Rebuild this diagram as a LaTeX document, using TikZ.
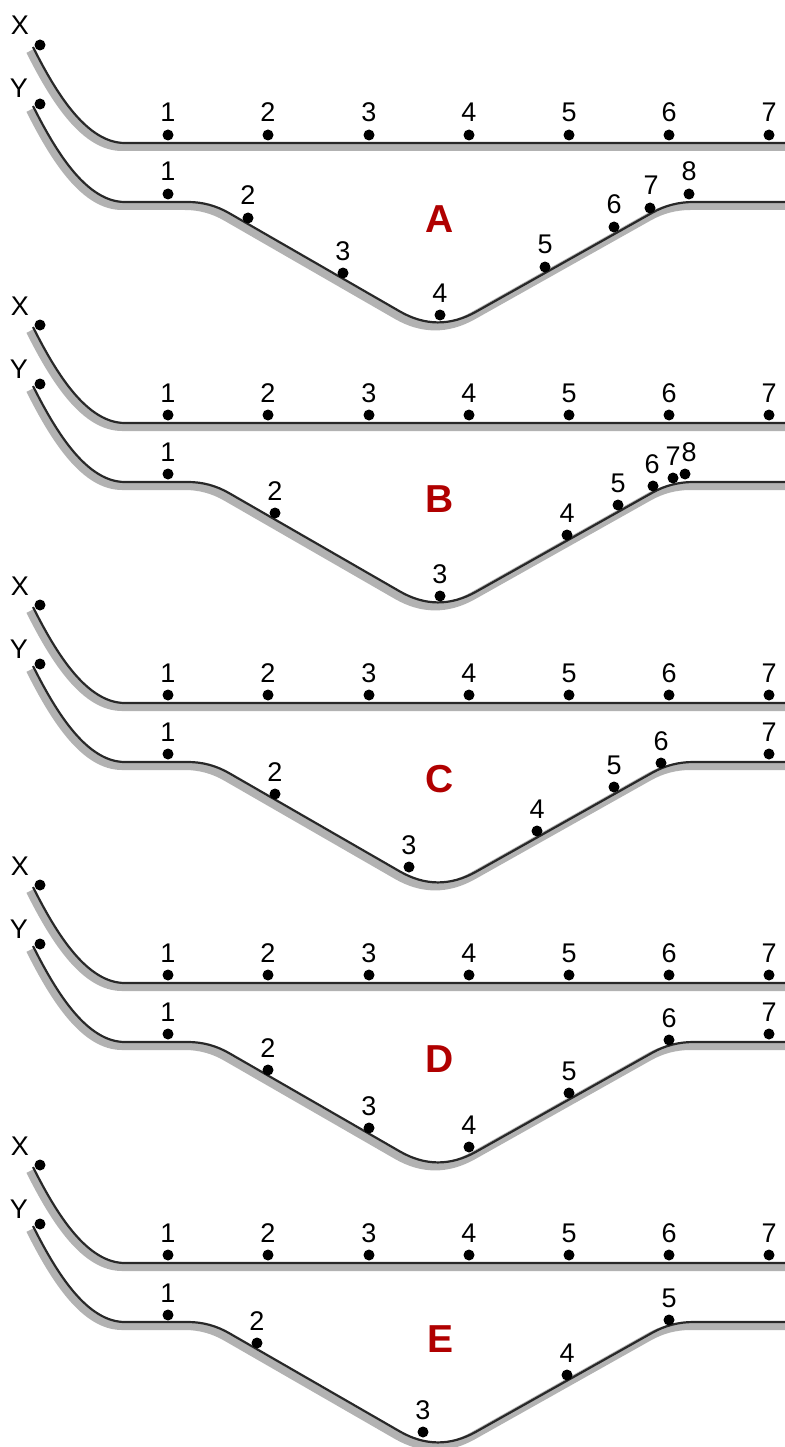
\documentclass[tikz,border=0pt]{standalone}
\usepackage{fontspec}
\setmainfont{Liberation Sans}
\definecolor{trackcol}{RGB}{40,40,40}
\definecolor{shadecol}{RGB}{178,178,178}
\definecolor{lettred}{RGB}{176,0,0}
\tikzset{
  trackline/.style={draw=trackcol, line width=2.2pt},
  shadowline/.style={draw=shadecol, line width=8pt},
  dotnode/.style={circle, fill=black, inner sep=0pt, minimum size=11pt},
  numlabel/.style={font=\fontsize{27}{27}\selectfont, inner sep=0pt, anchor=base},
  panellabel/.style={font=\fontsize{39}{39}\selectfont\bfseries, text=lettred, inner sep=0pt},
}
\begin{document}
\begin{tikzpicture}[x=1pt,y=-1pt]
\useasboundingbox (0,0) rectangle (784,1447);
\foreach \off/\L/\ylist in {
  0/A/{1/168/194/168,2/248/218/248,3/343/273/343,4/440/315/440,5/545/267/545,6/614/227/614,7/650/208/651,8/689/194/689},
  280/B/{1/168/194/168,2/275/233/275,3/440/316/440,4/567/255/567,5/618/225/618,6/653/206/652,7/673/198/673,8/685/194/689},
  560/C/{1/168/194/168,2/275/234/275,3/409/307/409,4/537/271/537,5/614/227/614,6/661/203/661,7/769/194/769},
  840/D/{1/168/194/168,2/268/230/268,3/369/288/369,4/469/307/469,5/569/253/569,6/669/200/669,7/769/194/769},
  1120/E/{1/168/195/168,2/257/223/257,3/423/312/423,4/567/255/567,5/669/200/669}} {
  \begin{scope}[shift={(0,\off)}]
    % shadows
    \draw[shadowline, shift={(-3,4)}] (33,47) .. controls (58,97) and (88,143) .. (125,143) -- (792,143);
    \draw[shadowline, shift={(-3,4)}] (33,106) .. controls (58,156) and (88,202) .. (125,202) -- (188,202)
      .. controls (202.5,202) and (216.2,205.7) .. (228.9,213.0) -- (399.6,311.3)
      .. controls (425.0,326.0) and (450.5,326.1) .. (476.1,311.7) -- (652.1,212.8)
      .. controls (664.9,205.6) and (678.6,202) .. (693.3,202) -- (792,202);
    % tracks
    \draw[trackline] (33,47) .. controls (58,97) and (88,143) .. (125,143) -- (792,143);
    \draw[trackline] (33,106) .. controls (58,156) and (88,202) .. (125,202) -- (188,202)
      .. controls (202.5,202) and (216.2,205.7) .. (228.9,213.0) -- (399.6,311.3)
      .. controls (425.0,326.0) and (450.5,326.1) .. (476.1,311.7) -- (652.1,212.8)
      .. controls (664.9,205.6) and (678.6,202) .. (693.3,202) -- (792,202);
    % start labels
    \node[dotnode] (\L X0) at (40,45) {};
    \node[dotnode] (\L Y0) at (40,104) {};
    \node[numlabel] (\L Xl) at (20,35) {X};
    \node[numlabel] (\L Yl) at (19,98) {Y};
    % X dots
    \foreach \i/\x in {1/168,2/268,3/369,4/469,5/569,6/669,7/769} {
      \node[dotnode] (\L x\i) at (\x,135) {};
      \node[numlabel] (\L xl\i) at (\x,122) {\i};
    }
    % Y dots
    \foreach \i/\x/\y/\lx in \ylist {
      \node[dotnode] (\L y\i) at (\x,\y) {};
      \node[numlabel] (\L yl\i) at (\lx,\y-13) {\i};
    }
    \node[panellabel] (\L lab) at (440,219) {\L};
  \end{scope}
}
\end{tikzpicture}
\end{document}
